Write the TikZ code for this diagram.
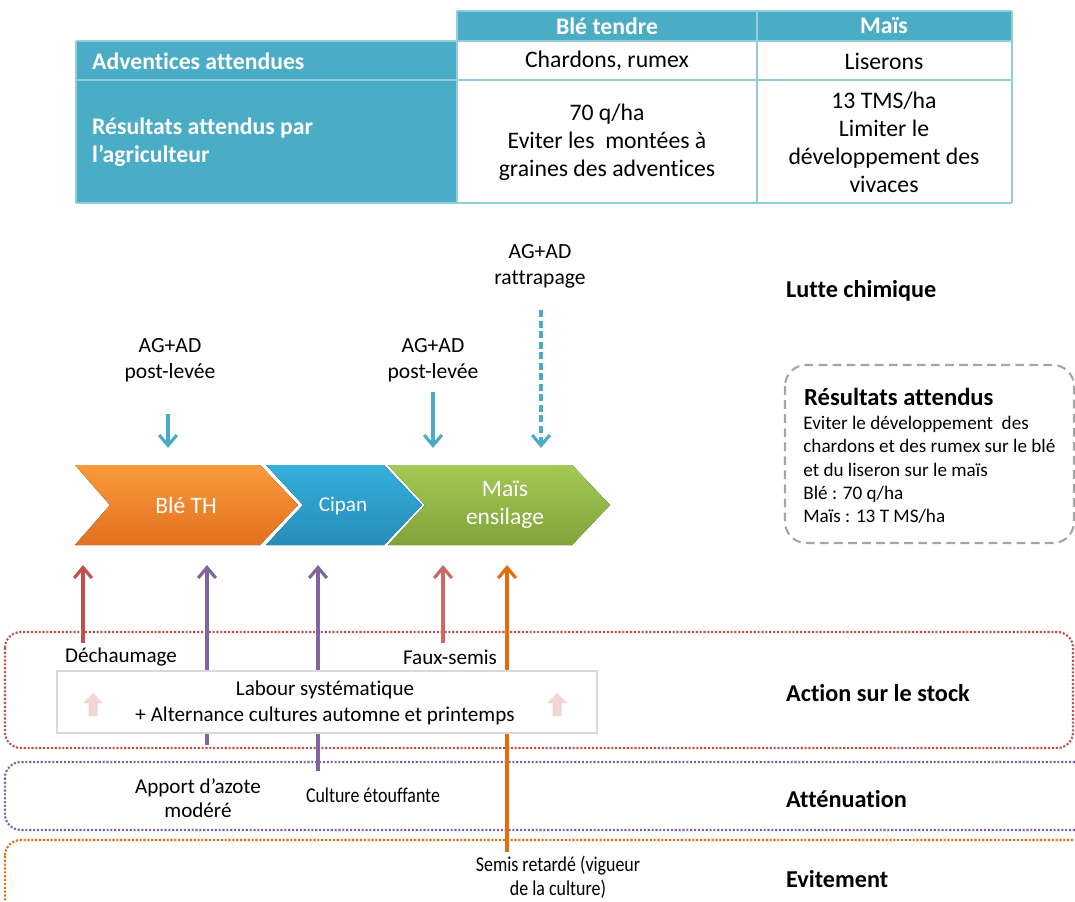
\documentclass[tikz,border=0pt]{standalone}
\usepackage{fontspec}
\setmainfont{Carlito}[Ligatures={TeX,NoCommon}]
\newfontfamily\narrowfont{Carlito}[Ligatures={TeX,NoCommon}, FakeStretch=0.85]
\usetikzlibrary{arrows.meta}
\definecolor{tabteal}{RGB}{75,172,198}
\definecolor{tabline}{RGB}{146,205,220}
\definecolor{orgtop}{RGB}{250,155,60}
\definecolor{orgbot}{RGB}{226,112,30}
\definecolor{blutop}{RGB}{52,176,218}
\definecolor{blubot}{RGB}{38,140,186}
\definecolor{grntop}{RGB}{165,201,85}
\definecolor{grnbot}{RGB}{128,164,58}
\definecolor{arred}{RGB}{192,80,77}
\definecolor{arpurple}{RGB}{128,100,162}
\definecolor{arorange}{RGB}{228,108,10}
\definecolor{boxgray}{RGB}{165,165,165}
\definecolor{pinkarr}{RGB}{240,214,213}

\begin{document}
\begin{tikzpicture}[x=0.02cm, y=-0.02cm,
  tabtxt/.style={font=\fontsize{13.5}{15.9}\selectfont, align=center},
  tabhead/.style={font=\fontsize{13.5}{15.9}\selectfont\bfseries, text=white},
  lbl/.style={font=\fontsize{12}{13.7}\selectfont, align=center},
  layer/.style={font=\fontsize{13.8}{15}\selectfont\bfseries, anchor=west},
  chev/.style={font=\fontsize{13.4}{15.9}\selectfont, text=white, align=center},
  uparr/.style={line width=1.8pt, -{Straight Barb[length=6pt,width=10pt]}},
  dnarr/.style={tabteal, line width=1.8pt, -{Straight Barb[length=6pt,width=10pt]}},
  zone/.style={line width=1.2pt, densely dotted, rounded corners=9pt}]
  \useasboundingbox (0,0) rectangle (1075,902);

  % Table
  \fill[tabteal] (457,11) rectangle (1012,41);
  \fill[tabteal] (76,41) rectangle (457,203);
  \draw[tabline, line width=1.1pt] (457,11) -- (1012,11);
  \draw[tabline, line width=1.1pt] (76,41) -- (1012,41);
  \draw[tabline, line width=1.1pt] (76,80) -- (1012,80);
  \draw[tabline, line width=1.1pt] (76,203) -- (1012,203);
  \draw[tabline, line width=1.1pt] (76,41) -- (76,203);
  \draw[tabline, line width=1.1pt] (457,11) -- (457,203);
  \draw[tabline, line width=1.1pt] (757,11) -- (757,203);
  \draw[tabline, line width=1.1pt] (1012,11) -- (1012,203);

  \node[tabhead] (hble) at (607,26) {Blé tendre};
  \node[tabhead] (hmais) at (884,26) {Maïs};
  \node[tabhead, anchor=west] (hadv) at (86,61) {Adventices attendues};
  \node[tabhead, anchor=west, align=left] (hres) at (86,142) {Résultats attendus par\\l’agriculteur};
  \node[tabtxt] (advble) at (607,61) {Chardons, rumex};
  \node[tabtxt] (advmais) at (884,61) {Liserons};
  \node[tabtxt] (resble) at (607,142) {70 q/ha\\Eviter les~ montées à\\graines des adventices};
  \node[tabtxt] (resmais) at (884,142) {13 TMS/ha\\Limiter le\\développement des\\vivaces};

  % Chevrons of the rotation
  \fill[top color=orgtop, bottom color=orgbot] (75,465) -- (260,465) -- (298,505) -- (260,545) -- (75,545) -- (110,505) -- cycle;
  \fill[top color=blutop, bottom color=blubot] (266,465) -- (384,465) -- (422,505) -- (384,545) -- (266,545) -- (303,505) -- cycle;
  \fill[top color=grntop, bottom color=grnbot] (388,465) -- (572,465) -- (610,505) -- (572,545) -- (388,545) -- (425,505) -- cycle;
  \node[chev] (ble) at (186,505) {Blé TH};
  \node[chev, font=\fontsize{12}{14}\selectfont] (cipan) at (343,506) {Cipan};
  \node[chev] (mais) at (505,505) {Maïs\\ensilage};

  % Chemical control
  \node[lbl, font=\fontsize{12.3}{14.7}\selectfont] (ag1) at (170,360) {AG+AD\\post-levée};
  \node[lbl, font=\fontsize{12.3}{14.7}\selectfont] (ag2) at (433,360) {AG+AD\\post-levée};
  \node[lbl, font=\fontsize{12.3}{14.7}\selectfont] (ag3) at (540,266) {AG+AD\\rattrapage};
  \coordinate (d1a) at (168,414);
  \coordinate (d1b) at (168,448);
  \coordinate (d2a) at (433,392);
  \coordinate (d2b) at (433,448);
  \coordinate (d3a) at (541,310);
  \coordinate (d3b) at (541,448);
  \draw[dnarr] (d1a) -- (d1b);
  \draw[dnarr] (d2a) -- (d2b);
  \draw[dnarr, dash pattern=on 4pt off 2pt] (d3a) -- (d3b);

  % Expected results
  \draw[boxgray, line width=1.2pt, dash pattern=on 5pt off 3pt, rounded corners=12pt] (785,365) rectangle (1074,543);
  \node[font=\fontsize{14}{16}\selectfont\bfseries, anchor=west] (restitle) at (798,397) {Résultats attendus};
  \node[font=\fontsize{10.9}{13.2}\selectfont, anchor=north west, align=left, inner sep=0pt] (resbody) at (803,416)
    {Eviter le développement~ des\\chardons et des rumex sur le blé\\et du liseron sur le maïs\\Blé : 70 q/ha\\Maïs : 13 T MS/ha};

  % Zones
  \draw[zone, arred] (5,632) rectangle (1073,748);
  \draw[zone, arpurple] (5,762) rectangle (1095,830);
  \draw[zone, arorange] (5,840) rectangle (1095,940);

  % Upward arrows
  \coordinate (u1a) at (83,643);
  \coordinate (u1b) at (83,565);
  \coordinate (u2a) at (207,745);
  \coordinate (u2b) at (207,565);
  \coordinate (u3a) at (318,771);
  \coordinate (u3b) at (318,565);
  \coordinate (u4a) at (443,643);
  \coordinate (u4b) at (443,565);
  \coordinate (u5a) at (507,852);
  \coordinate (u5b) at (507,565);
  \draw[uparr, arred] (u1a) -- (u1b);
  \draw[uparr, arpurple] (u2a) -- (u2b);
  \draw[uparr, arpurple] (u3a) -- (u3b);
  \draw[uparr, arred!85!white] (u4a) -- (u4b);
  \draw[uparr, arorange] (u5a) -- (u5b);

  % Stock box
  \draw[black!15, fill=white, line width=0.6pt] (57,671) rectangle (597,733);
  \node[lbl, font=\fontsize{12}{14.5}\selectfont] (labour) at (325,703) {Labour systématique\\+ Alternance cultures automne et printemps};
  \fill[pinkarr] (93,693) -- (103,703) -- (97.5,703) -- (97.5,716) -- (88.5,716) -- (88.5,703) -- (83,703) -- cycle;
  \fill[pinkarr] (557,693) -- (567,703) -- (561.5,703) -- (561.5,716) -- (552.5,716) -- (552.5,703) -- (547,703) -- cycle;

  % Practice labels
  \node[lbl] (dech) at (121,657) {Déchaumage};
  \node[lbl] (faux) at (450,657) {Faux-semis};
  \node[lbl] (azote) at (198,798) {Apport d’azote\\modéré};
  \node[lbl, font=\narrowfont\fontsize{12}{13.7}\selectfont] (etouf) at (373,795) {Culture étouffante};
  \node[lbl, font=\narrowfont\fontsize{12}{13.7}\selectfont] (semis) at (558,877) {Semis retardé (vigueur\\de la culture)};

  % Layer titles
  \node[layer] (lutte) at (780,291) {Lutte chimique};
  \node[layer] (stock) at (780,693) {Action sur le stock};
  \node[layer] (atten) at (780,799) {Atténuation};
  \node[layer] (evit) at (780,879) {Evitement};
\end{tikzpicture}
\end{document}
